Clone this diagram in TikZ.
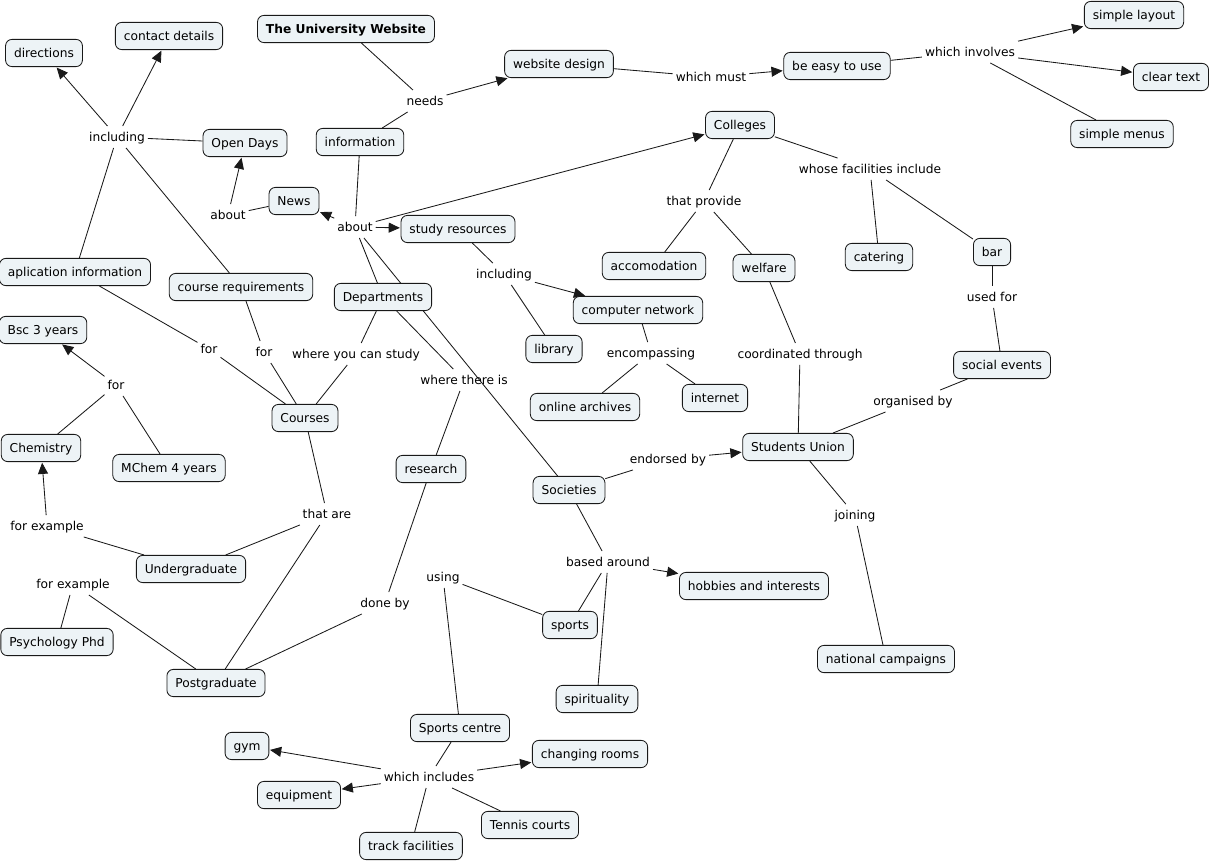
\documentclass[tikz,border=0pt]{standalone}
\usepackage{fontspec}
\setmainfont{DejaVu Sans}
\usepackage{xcolor}
\usetikzlibrary{arrows.meta,backgrounds}
\definecolor{cmapfill}{RGB}{237,243,246}
\definecolor{cmapline}{RGB}{25,25,25}
\newcommand{\mapfont}{\fontsize{8.7}{10.5}\selectfont}
\tikzstyle{concept}=[draw=cmapline, fill=cmapfill, rounded corners=1.6mm, line width=0.6pt, inner xsep=6pt, inner ysep=0pt, minimum height=0.68cm, text height=1.6ex, text depth=0.45ex, font=\mapfont]
\tikzstyle{phrase}=[inner sep=2pt, text height=1.6ex, text depth=0.45ex, font=\mapfont]
\tikzstyle{link}=[draw=cmapline, line width=0.6pt]
\tikzstyle{linkarrow}=[link, -{Triangle[length=2.8mm,width=2.5mm]}, shorten >=0.5pt]

\begin{document}
\begin{tikzpicture}[x=0.025cm, y=-0.025cm]
\useasboundingbox (0,0) rectangle (1210,861);

% concepts
\node[concept, font=\mapfont\bfseries] (uni) at (346,29) {The University Website};
\node[concept] (web) at (559,64) {website design};
\node[concept] (easy) at (837,66) {be easy to use};
\node[concept] (layout) at (1134,15) {simple layout};
\node[concept] (clear) at (1171,77) {clear text};
\node[concept] (menus) at (1122,134) {simple menus};
\node[concept] (dir) at (44,53) {directions};
\node[concept] (contact) at (169,36) {contact details};
\node[concept] (open) at (245,143) {Open Days};
\node[concept] (info) at (360,142) {information};
\node[concept] (news) at (294,201) {News};
\node[concept] (coll) at (740,125) {Colleges};
\node[concept] (study) at (458,229) {study resources};
\node[concept] (appl) at (75,272) {aplication information};
\node[concept] (req) at (241,287) {course requirements};
\node[concept] (dept) at (383,297) {Departments};
\node[concept] (acc) at (654,266) {accomodation};
\node[concept] (welf) at (764,268) {welfare};
\node[concept] (cater) at (879,257) {catering};
\node[concept] (bar) at (992,252) {bar};
\node[concept] (net) at (638,310) {computer network};
\node[concept] (lib) at (554,349) {library};
\node[concept] (bsc) at (43,330) {Bsc 3 years};
\node[concept] (social) at (1002,365) {social events};
\node[concept] (internet) at (715,398) {internet};
\node[concept] (archives) at (585,407) {online archives};
\node[concept] (courses) at (305,418) {Courses};
\node[concept] (chem) at (41,448) {Chemistry};
\node[concept] (mchem) at (169,468) {MChem 4 years};
\node[concept] (research) at (431,469) {research};
\node[concept] (union) at (798,447) {Students Union};
\node[concept] (soc) at (569,490) {Societies};
\node[concept] (ugrad) at (191,569) {Undergraduate};
\node[concept] (hobbies) at (754,586) {hobbies and interests};
\node[concept] (sports) at (570,625) {sports};
\node[concept] (psych) at (57,642) {Psychology Phd};
\node[concept] (camp) at (886,659) {national campaigns};
\node[concept] (pgrad) at (216,683) {Postgraduate};
\node[concept] (spirit) at (597,699) {spirituality};
\node[concept] (centre) at (460,728) {Sports centre};
\node[concept] (gym) at (247,746) {gym};
\node[concept] (changing) at (590,754) {changing rooms};
\node[concept] (equip) at (299,795) {equipment};
\node[concept] (tennis) at (530,825) {Tennis courts};
\node[concept] (track) at (411,846) {track facilities};

% linking phrases
\node[phrase] (needs) at (425,101) {needs};
\node[phrase] (must) at (711,77) {which must};
\node[phrase] (involves) at (970,52) {which involves};
\node[phrase] (incl) at (117,137) {including};
\node[phrase] (aboutnews) at (228,215) {about};
\node[phrase] (about) at (355,227) {about};
\node[phrase] (provide) at (704,201) {that provide};
\node[phrase] (facil) at (870,169) {whose facilities include};
\node[phrase] (inclstudy) at (504,274) {including};
\node[phrase] (usedfor) at (992,297) {used for};
\node[phrase] (wherestudy) at (356,354) {where you can study};
\node[phrase] (forappl) at (209,349) {for};
\node[phrase] (forreq) at (264,352) {for};
\node[phrase] (whereis) at (464,380) {where there is};
\node[phrase] (encomp) at (651,353) {encompassing};
\node[phrase] (coord) at (800,354) {coordinated through};
\node[phrase] (organised) at (913,401) {organised by};
\node[phrase] (forchem) at (116,385) {for};
\node[phrase] (endorsed) at (668,459) {endorsed by};
\node[phrase] (joining) at (855,515) {joining};
\node[phrase] (thatare) at (327,514) {that are};
\node[phrase] (exug) at (47,526) {for example};
\node[phrase] (expg) at (73,584) {for example};
\node[phrase] (based) at (608,562) {based around};
\node[phrase] (using) at (443,577) {using};
\node[phrase] (doneby) at (385,603) {done by};
\node[phrase] (includes) at (429,777) {which includes};

\begin{scope}[on background layer]
% website
\draw[link] (uni) -- (needs);
\draw[link] (info) -- (needs);
\draw[linkarrow] (needs) -- (web);
\draw[link] (web) -- (must);
\draw[linkarrow] (must) -- (easy);
\draw[link] (easy) -- (involves);
\draw[linkarrow] (involves) -- (layout);
\draw[linkarrow] (involves) -- (clear);
\draw[link] (involves) -- (menus);

% open days
\draw[link] (open) -- (incl);
\draw[linkarrow] (incl) -- (dir);
\draw[linkarrow] (incl) -- (contact);
\draw[link] (incl) -- (appl);
\draw[link] (incl) -- (req);
\draw[link] (news) -- (aboutnews);
\draw[linkarrow] (aboutnews) -- (open);

% information
\draw[link] (info) -- (about);
\draw[linkarrow] (about) -- (news);
\draw[linkarrow] (about) -- (study);
\draw[linkarrow] (about) -- (coll);
\draw[link] (about) -- (dept);
\draw[link] (about) -- (soc);

% courses
\draw[link] (dept) -- (wherestudy);
\draw[link] (wherestudy) -- (courses);
\draw[link] (appl) -- (forappl);
\draw[link] (forappl) -- (courses);
\draw[link] (req) -- (forreq);
\draw[link] (forreq) -- (courses);
\draw[link] (courses) -- (thatare);
\draw[link] (thatare) -- (ugrad);
\draw[link] (thatare) -- (pgrad);
\draw[link] (ugrad) -- (exug);
\draw[linkarrow] (exug) -- (chem);
\draw[link] (chem) -- (forchem);
\draw[linkarrow] (forchem) -- (bsc);
\draw[link] (forchem) -- (mchem);
\draw[link] (pgrad) -- (expg);
\draw[link] (expg) -- (psych);
\draw[link] (dept) -- (whereis);
\draw[link] (whereis) -- (research);
\draw[link] (research) -- (doneby);
\draw[link] (doneby) -- (pgrad);

% colleges
\draw[link] (coll) -- (provide);
\draw[link] (provide) -- (acc);
\draw[link] (provide) -- (welf);
\draw[link] (coll) -- (facil);
\draw[link] (facil) -- (cater);
\draw[link] (facil) -- (bar);
\draw[link] (bar) -- (usedfor);
\draw[link] (usedfor) -- (social);

% study resources
\draw[link] (study) -- (inclstudy);
\draw[linkarrow] (inclstudy) -- (net);
\draw[link] (inclstudy) -- (lib);
\draw[link] (net) -- (encomp);
\draw[link] (encomp) -- (archives);
\draw[link] (encomp) -- (internet);

% students union
\draw[link] (welf) -- (coord);
\draw[link] (coord) -- (union);
\draw[link] (union) -- (organised);
\draw[link] (organised) -- (social);
\draw[link] (union) -- (joining);
\draw[link] (joining) -- (camp);

% societies
\draw[link] (soc) -- (endorsed);
\draw[linkarrow] (endorsed) -- (union);
\draw[link] (soc) -- (based);
\draw[linkarrow] (based) -- (hobbies);
\draw[link] (based) -- (sports);
\draw[link] (based) -- (spirit);
\draw[link] (sports) -- (using);
\draw[link] (using) -- (centre);

% sports centre
\draw[link] (centre) -- (includes);
\draw[linkarrow] (includes) -- (gym);
\draw[linkarrow] (includes) -- (changing);
\draw[linkarrow] (includes) -- (equip);
\draw[link] (includes) -- (tennis);
\draw[link] (includes) -- (track);
\end{scope}

\end{tikzpicture}
\end{document}
